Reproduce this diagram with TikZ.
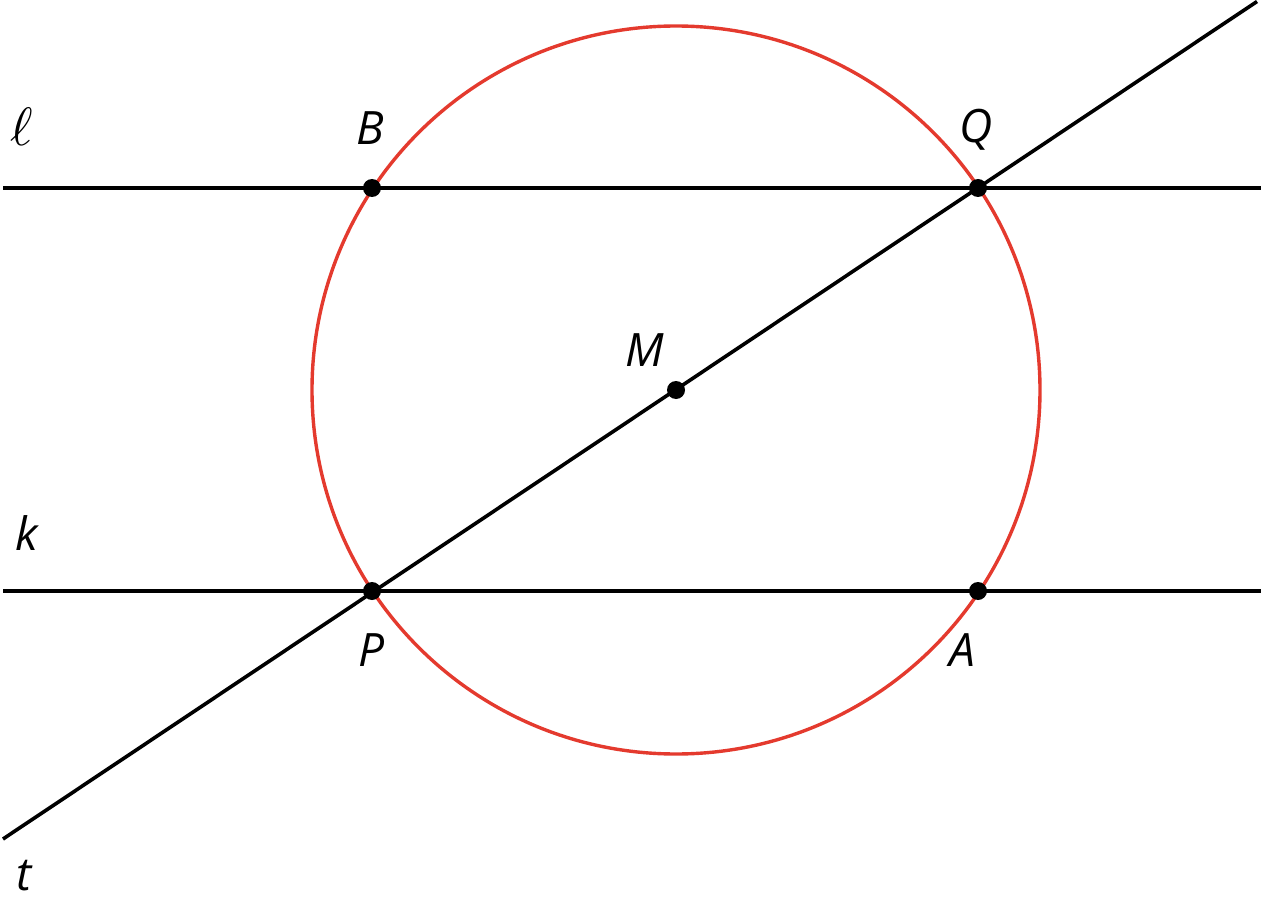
\documentclass[tikz,border=0pt]{standalone}
\usepackage{fontspec}
\setmainfont{Open Sans}
\definecolor{circred}{RGB}{228,58,46}
\begin{document}
\begin{tikzpicture}[x=1pt,y=-1pt,
  lbl/.style={font=\fontsize{46}{50}\selectfont\itshape, inner sep=0pt},
  ln/.style={line width=3.6pt, black},
  pt/.style={fill=black, circle, inner sep=0pt, minimum size=18pt},
  crc/.style={line width=3.4pt, draw=circred}]
\useasboundingbox (0,0) rectangle (1261,904);
% key points
\coordinate (M) at (676,390);
\coordinate (B) at (372,188);
\coordinate (Q) at (978,188);
\coordinate (P) at (372,591);
\coordinate (A) at (978,591);
\coordinate (lL) at (3,188);
\coordinate (lR) at (1261,188);
\coordinate (kL) at (3,591);
\coordinate (kR) at (1261,591);
\coordinate (tL) at (3,839);
\coordinate (tR) at (1257,1.5);
% circle
\draw[crc] (M) circle[radius=364];
% lines
\draw[ln] (lL) -- (lR);
\draw[ln] (kL) -- (kR);
\draw[ln] (tL) -- (tR);
% dots
\foreach \p in {M,B,Q,P,A} \node[pt] at (\p) {};
% labels
\node[inner sep=0pt] (lbll) at (22,127) {\scalebox{5.4}{$\ell$}};
\node[lbl] (lblB) at (370,128) {B};
\node[lbl] (lblQ) at (976,130) {Q};
\node[lbl] (lblM) at (645,350) {M};
\node[lbl] (lblk) at (27,533) {k};
\node[lbl] (lblP) at (372,650) {P};
\node[lbl] (lblA) at (962,650) {A};
\node[lbl] (lblt) at (24,876) {t};
\end{tikzpicture}
\end{document}
